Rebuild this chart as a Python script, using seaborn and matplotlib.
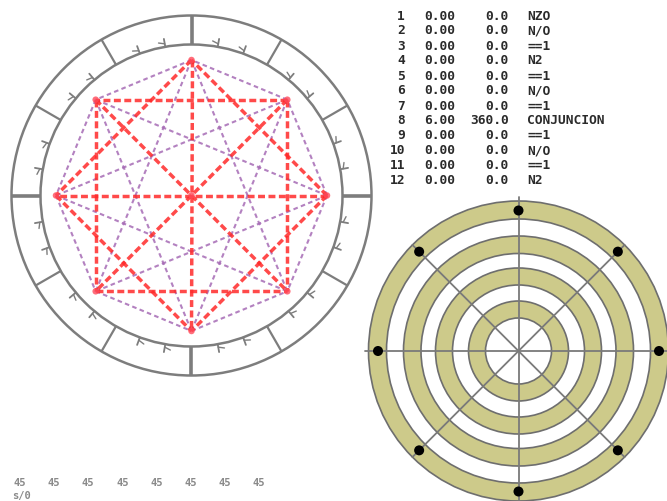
import numpy as np
import pandas as pd
import matplotlib
matplotlib.use("Agg")
import matplotlib.pyplot as plt
from matplotlib.patches import Circle, Wedge
import seaborn as sns

# ---------------- data ----------------
planet_angles = [0, 45, 90, 135, 180, 225, 270, 315]          # degrees on the wheel
row_numbers = ["1", "2", "3", "4", "5", "6", "7", "8", "9", "10", "11", "12"]
row_orbs = ["0.00", "0.00", "0.00", "0.00", "0.00", "0.00", "0.00", "6.00",
            "0.00", "0.00", "0.00", "0.00"]
row_angles = ["0.0", "0.0", "0.0", "0.0", "0.0", "0.0", "0.0", "360.0",
              "0.0", "0.0", "0.0", "0.0"]
row_aspects = ["NZO", "N/O", "==1", "N2", "==1", "N/O", "==1", "CONJUNCION",
               "==1", "N/O", "==1", "N2"]
bottom_labels = ["45", "45", "45", "45", "45", "45", "45", "45"]
bottom_note = "s/0"
house_dot_angles = [0, 45, 90, 135, 180, 225, 270, 315]

# ---------------- figure ----------------
sns.set_theme(style="white")
plt.rcParams["font.family"] = ["DejaVu Sans Mono", "DejaVu Sans"]
fig = plt.figure(figsize=(6.67, 5.02), dpi=100)
ax = fig.add_axes([0, 0, 1, 1])
ax.set_xlim(0, 667)
ax.set_ylim(502, 0)
ax.axis("off")

GRAY = "#7d7d7d"

def pol(cx, cy, r, deg):
    t = np.deg2rad(deg)
    return cx + r * np.cos(t), cy - r * np.sin(t)

# ---------- left wheel ----------
cx, cy = 191.5, 196.5
R_OUT, R_MID, R_PL = 180, 151, 135.5
for r in (R_OUT, R_MID):
    ax.add_patch(Circle((cx, cy), r, fill=False, ec=GRAY, lw=1.8, zorder=2))
for a in range(0, 360, 30):
    x0, y0 = pol(cx, cy, R_MID, a)
    x1, y1 = pol(cx, cy, R_OUT, a)
    ax.plot([x0, x1], [y0, y1], color=GRAY, lw=2.6 if a % 90 == 0 else 1.6,
            solid_capstyle="butt", zorder=2)
for a in range(0, 360, 10):
    if a % 30 == 0:
        continue
    x0, y0 = pol(cx, cy, R_MID, a)
    x1, y1 = pol(cx, cy, R_MID + 8, a)
    ax.plot([x0, x1], [y0, y1], color=GRAY, lw=1.3, zorder=2)
    x2, y2 = pol(cx, cy, R_MID + 5, a + 2.2)
    xm, ym = pol(cx, cy, R_MID + 3, a)
    ax.plot([xm, x2], [ym, y2], color=GRAY, lw=1.0, zorder=2)

# aspect lines between planets
rows = []
pid = 0
n = len(planet_angles)
for i in range(n):
    for j in range(i + 1, n):
        sep = abs(planet_angles[i] - planet_angles[j]) % 360
        sep = min(sep, 360 - sep)
        kind = "hard" if sep in (90, 180) else "soft"
        for k in (i, j):
            x, y = pol(cx, cy, R_PL, planet_angles[k])
            rows.append({"x": x, "y": y, "pair": pid, "kind": kind})
        pid += 1
lines = pd.DataFrame(rows)
for kind, col, w, d in (("soft", "#a66bb5", 1.5, (2.2, 1.6)),
                        ("hard", "#ff2a2a", 2.5, (2.0, 1.0))):
    sub = lines[lines["kind"] == kind]
    sns.lineplot(data=sub, x="x", y="y", units="pair", estimator=None, sort=False,
                 color=col, lw=w, alpha=0.85, dashes=False, ax=ax, legend=False,
                 zorder=3)
    for line in ax.get_lines()[-sub["pair"].nunique():]:
        line.set_dashes(d)

pts = pd.DataFrame({"x": [pol(cx, cy, R_PL, a)[0] for a in planet_angles] + [cx],
                    "y": [pol(cx, cy, R_PL, a)[1] for a in planet_angles] + [cy]})
sns.scatterplot(data=pts, x="x", y="y", color="#ff4a5a", s=22, edgecolor="none",
                alpha=0.8, ax=ax, legend=False, zorder=4)

# ---------- right wheel ----------
rx, ry = 518.5, 352
band_edges = [150, 132, 115, 97.5, 83, 66, 50, 33]
OLIVE = "#cdca8a"
for k in range(0, len(band_edges), 2):
    outer, inner = band_edges[k], band_edges[k + 1]
    ax.add_patch(Wedge((rx, ry), outer, 0, 360, width=outer - inner,
                       fc=OLIVE, ec="none", zorder=1))
for r in band_edges:
    ax.add_patch(Circle((rx, ry), r, fill=False, ec="#6e6e6e", lw=1.2, zorder=2))
for a in range(0, 360, 45):
    ext = 154 if a % 90 == 0 else 150
    x1, y1 = pol(rx, ry, ext, a)
    ax.plot([rx, x1], [ry, y1], color="#7a7a7a", lw=1.3, zorder=2)
dots = pd.DataFrame({"x": [pol(rx, ry, 140.5, a)[0] for a in house_dot_angles],
                     "y": [pol(rx, ry, 140.5, a)[1] for a in house_dot_angles]})
sns.scatterplot(data=dots, x="x", y="y", color="black", s=52, edgecolor="none",
                ax=ax, legend=False, zorder=5)

# ---------- table ----------
tk = dict(fontsize=9.3, fontweight="bold", color="#2a2a2a", va="center")
for i in range(len(row_numbers)):
    y = 16 + 15 * i
    ax.text(405, y, row_numbers[i], ha="right", **tk)
    ax.text(424, y, row_orbs[i], ha="left", **tk)
    ax.text(509, y, row_angles[i], ha="right", **tk)
    ax.text(527, y, row_aspects[i], ha="left", **tk)

# ---------- bottom labels ----------
for i, lab in enumerate(bottom_labels):
    ax.text(20 + 34.1 * i, 483, lab, ha="center", va="center", fontsize=7.5,
            fontweight="bold", color="#8a8a8a")
ax.text(12, 496, bottom_note, ha="left", va="center", fontsize=7.5,
        fontweight="bold", color="#8a8a8a")

fig.savefig("out.png", dpi=100)
